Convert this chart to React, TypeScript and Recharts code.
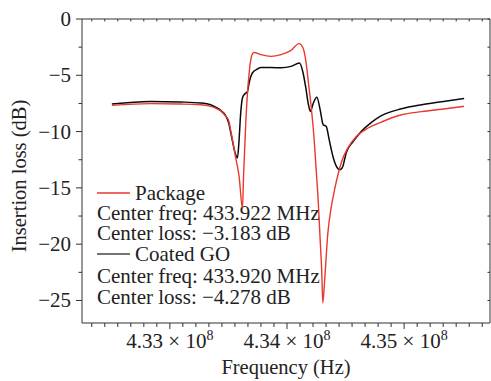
import React from 'react';
import { LineChart, Line, XAxis, YAxis, ReferenceLine, Customized } from 'recharts';

// ---- data (frequency in MHz, insertion loss in dB) ----
const packageFreqMHz = [
  432.505, 432.833, 433.091, 433.262, 433.348, 433.391, 433.434, 433.477, 433.5025, 433.52, 433.562, 433.591,
  433.62, 433.629, 433.648, 433.677, 433.706, 433.72, 433.777, 433.863, 433.949, 434.034,
  434.103, 434.137, 434.163, 434.18, 434.206, 434.232, 434.249, 434.266, 434.283, 434.296,
  434.306, 434.32, 434.349, 434.377, 434.406, 434.435, 434.463, 434.521, 434.592, 434.692,
  434.806, 434.978, 435.15, 435.321, 435.512,
];
const packageLossDb = [
  -7.67, -7.52, -7.55, -7.61, -7.76, -7.92, -8.16, -8.65, -9.03, -9.92, -12.32, -13.98,
  -16.79, -13.98, -9.21, -4.77, -3.08, -2.97, -3.17, -3.32, -3.17, -2.79,
  -2.19, -2.58, -3.88, -5.39, -7.76, -10.72, -13.38, -16.05, -19.6, -22.26,
  -25.22, -23.42, -18.98, -16.76, -15.16, -13.83, -12.76, -11.43, -10.43, -9.68,
  -9.15, -8.5, -8.23, -8.01, -7.76,
];
const coatedFreqMHz = [
  432.505, 432.833, 433.091, 433.262, 433.348, 433.391, 433.434, 433.477, 433.5025, 433.52, 433.562, 433.577,
  433.591, 433.605, 433.62, 433.634, 433.663, 433.677, 433.706, 433.749, 433.777, 433.949,
  434.034, 434.106, 434.137, 434.163, 434.183, 434.2, 434.223, 434.255, 434.283, 434.309,
  434.335, 434.36, 434.395, 434.429, 434.449, 434.472, 434.506, 434.566, 434.635, 434.721,
  434.806, 434.978, 435.15, 435.321, 435.512,
];
const coatedLossDb = [
  -7.55, -7.32, -7.37, -7.46, -7.61, -7.83, -8.12, -8.59, -9.25, -10.1, -12.05, -12.34,
  -10.72, -8.32, -6.99, -6.72, -6.43, -5.66, -4.77, -4.44, -4.3, -4.33,
  -4.21, -3.91, -4.77, -6.28, -7.61, -8.21, -7.52, -6.96, -8.06, -9.39,
  -9.54, -10.72, -12.32, -13.21, -13.38, -13.21, -11.87, -10.87, -9.98, -9.18,
  -8.59, -7.97, -7.61, -7.34, -7.05,
];

// ---- axes ----
const xDomain = [432.25, 435.733];
const xMajorTicks = [433, 434, 435];
const xMajorLabels = ['4.33', '4.34', '4.35'];
const xTickMultiplier = ' \u00D7 10';
const xTickExponent = '8';
const xMinorPerMajor = 9;
const yDomain = [-27, 0];
const yMajorTicks = [0, -5, -10, -15, -20, -25];
const yMajorLabels = ['0', '\u22125', '\u221210', '\u221215', '\u221220', '\u221225'];
const yMinorTicks = [-2.5, -7.5, -12.5, -17.5, -22.5];

const xLabel = 'Frequency (Hz)';
const yLabel = 'Insertion loss (dB)';

const seriesNames = ['Package', 'Coated GO'];
const seriesColors = ['#e8392d', '#0a0a0a'];
const legendSwatchColors = ['#e8392d', '#444444'];
const legendFreqLines = ['Center freq: 433.922 MHz', 'Center freq: 433.920 MHz'];
const legendLossLines = ['Center loss: \u22123.183 dB', 'Center loss: \u22124.278 dB'];

// ---- build tables ----
const packageData = packageFreqMHz.map((f, i) => ({ f, v: packageLossDb[i] }));
const coatedData = coatedFreqMHz.map((f, i) => ({ f, v: coatedLossDb[i] }));

const xMinorTicks: number[] = [];
for (let m = 432; m <= 436; m++) {
  for (let k = 1; k < xMinorPerMajor; k++) {
    const t = m + k / xMinorPerMajor;
    if (t > xDomain[0] && t < xDomain[1]) xMinorTicks.push(Number(t.toFixed(5)));
  }
}
const xAllTicks = [...xMajorTicks, ...xMinorTicks].sort((a, b) => a - b);
const yAllTicks = [...yMajorTicks, ...yMinorTicks].sort((a, b) => a - b);

// ---- layout ----
const W = 491;
const H = 381;
const M_TOP = 19;
const M_RIGHT = 1;
const Y_W = 82;
const X_H = 58;
const PLOT_TOP = M_TOP;
const PLOT_RIGHT = W - M_RIGHT;
const FONT = '"Liberation Serif", "Times New Roman", serif';
const AXIS_COLOR = '#333';
const TXT = '#222';

const XTick = (props: any) => {
  const { x, y, payload } = props;
  const v = payload.value;
  const mi = xMajorTicks.findIndex((t) => Math.abs(t - v) < 1e-6);
  const major = mi >= 0;
  return (
    <g>
      <line x1={x} x2={x} y1={y} y2={y + (major ? 6 : 4)} stroke={AXIS_COLOR} strokeWidth={1} />
      <line x1={x} x2={x} y1={PLOT_TOP} y2={PLOT_TOP + 2.5} stroke={AXIS_COLOR} strokeWidth={1} />
      {major && (
        <text x={x} y={y + 25} textAnchor="middle" fontFamily={FONT} fontSize={21} fill={TXT}>
          {xMajorLabels[mi] + xTickMultiplier}
          <tspan dy={-8} fontSize={14}>{xTickExponent}</tspan>
        </text>
      )}
    </g>
  );
};

const YTick = (props: any) => {
  const { x, y, payload } = props;
  const v = payload.value;
  const mi = yMajorTicks.findIndex((t) => Math.abs(t - v) < 1e-6);
  const major = mi >= 0;
  return (
    <g>
      <line x1={x} x2={x - (major ? 6 : 3.5)} y1={y} y2={y} stroke={AXIS_COLOR} strokeWidth={1} />
      <line x1={PLOT_RIGHT} x2={PLOT_RIGHT - 2.5} y1={y} y2={y} stroke={AXIS_COLOR} strokeWidth={1} />
      {major && (
        <text x={x - 11} y={y + 7} textAnchor="end" fontFamily={FONT} fontSize={21} fill={TXT}>
          {yMajorLabels[mi]}
        </text>
      )}
    </g>
  );
};

const Overlay = () => {
  const rows = [199.5, 219.5, 240, 260.5, 282.5, 304];
  const fs = 21;
  return (
    <g fontFamily={FONT} fontSize={fs} fill={TXT}>
      <text x={286} y={374} textAnchor="middle" fontSize={20.5}>{xLabel}</text>
      <text x={26} y={176} textAnchor="middle" fontSize={20.5} transform="rotate(-90 26 176)">{yLabel}</text>
      {seriesNames.map((name, i) => (
        <g key={name}>
          <line x1={97} x2={130} y1={rows[i * 3] - 6.5} y2={rows[i * 3] - 6.5} stroke={legendSwatchColors[i]} strokeWidth={1.3} />
          <text x={135} y={rows[i * 3]}>{name}</text>
          <text x={97} y={rows[i * 3 + 1]}>{legendFreqLines[i]}</text>
          <text x={97} y={rows[i * 3 + 2]}>{legendLossLines[i]}</text>
        </g>
      ))}
    </g>
  );
};

export default function App() {
  return (
    <div style={{ position: 'absolute', left: 0, top: 0, width: W, height: H, background: '#fff' }}>
      <LineChart width={W} height={H} margin={{ top: M_TOP, right: M_RIGHT, left: 0, bottom: 0 }}>
        <XAxis
          type="number"
          dataKey="f"
          domain={xDomain}
          ticks={xAllTicks}
          interval={0}
          allowDataOverflow
          height={X_H}
          tickSize={0}
          tickMargin={0}
          tickLine={false}
          tick={<XTick />}
          axisLine={{ stroke: AXIS_COLOR, strokeWidth: 1 }}
        />
        <YAxis
          type="number"
          domain={yDomain}
          ticks={yAllTicks}
          interval={0}
          allowDataOverflow
          width={Y_W}
          tickSize={0}
          tickMargin={0}
          tickLine={false}
          tick={<YTick />}
          axisLine={{ stroke: AXIS_COLOR, strokeWidth: 1 }}
        />
        <ReferenceLine y={yDomain[1]} stroke={AXIS_COLOR} strokeWidth={1} ifOverflow="extendDomain" />
        <ReferenceLine x={xDomain[1]} stroke={AXIS_COLOR} strokeWidth={1} ifOverflow="extendDomain" />
        <Line
          data={coatedData}
          dataKey="v"
          name={seriesNames[1]}
          type="monotone"
          stroke={seriesColors[1]}
          strokeWidth={1.5}
          dot={false}
          isAnimationActive={false}
        />
        <Line
          data={packageData}
          dataKey="v"
          name={seriesNames[0]}
          type="monotone"
          stroke={seriesColors[0]}
          strokeWidth={1.4}
          dot={false}
          isAnimationActive={false}
        />
        <Customized component={Overlay} />
      </LineChart>
    </div>
  );
}
